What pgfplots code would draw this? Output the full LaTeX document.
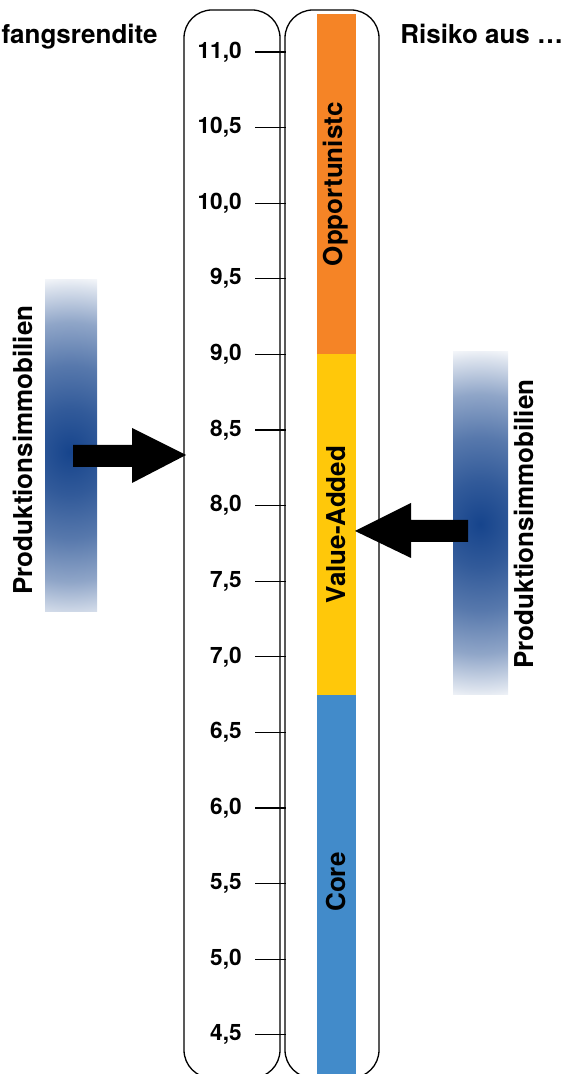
\documentclass[border=0pt]{standalone}
\usepackage{fontspec}
\setmainfont{TeX Gyre Heros}
\usepackage{pgfplots}
\pgfplotsset{compat=1.18}
\definecolor{opp}{RGB}{245,132,38}
\definecolor{val}{RGB}{255,200,10}
\definecolor{core}{RGB}{66,139,202}
\definecolor{navy}{RGB}{22,68,140}
\pgfdeclareradialshading{glow}{\pgfpoint{0bp}{0bp}}{%
  color(0bp)=(navy);
  color(6bp)=(navy!88!white);
  color(12bp)=(navy!72!white);
  color(18bp)=(navy!48!white);
  color(23bp)=(navy!15!white);
  color(25bp)=(white);
  color(50bp)=(white)}
\begin{document}
\begin{tikzpicture}
\useasboundingbox (0pt,0pt) rectangle (285pt,537pt);
% soft bands
\begin{scope}
\clip (22.5pt,231pt) rectangle (48.5pt,397pt);
\shade[shading=glow] (35pt,311pt) ellipse (80pt and 90pt);
\end{scope}
\begin{scope}
\clip (226.5pt,189.5pt) rectangle (254pt,361pt);
\shade[shading=glow] (240pt,275pt) ellipse (80pt and 90pt);
\end{scope}
% frames
\draw[line width=0.65pt, rounded corners=14pt] (92pt,-2pt) rectangle (140pt,532pt);
\draw[line width=0.65pt, rounded corners=14pt] (142.5pt,-2pt) rectangle (189.5pt,532pt);
% titles
\node[anchor=base east, inner sep=0pt, font=\fontsize{13}{15}\selectfont\bfseries] at (79pt,515pt) {Anfangsrendite};
\node[anchor=base west, inner sep=0pt, font=\fontsize{13}{15}\selectfont\bfseries] at (200pt,515pt) {Risiko aus …};
\node[rotate=90, inner sep=0pt, font=\fontsize{13}{15}\selectfont\bfseries] at (11.5pt,312pt) {Produktionsimmobilien};
\node[rotate=90, inner sep=0pt, font=\fontsize{13}{15}\selectfont\bfseries] at (262pt,275pt) {Produktionsimmobilien};
\begin{axis}[
  at={(143pt,0pt)}, anchor=south west,
  scale only axis, width=142pt, height=537pt,
  xmin=286, xmax=570, ymin=4.2407, ymax=11.3439,
  clip=false,
  hide x axis,
  axis y line*=left,
  y axis line style={draw=none},
  ytick={4.5,5,5.5,6,6.5,7,7.5,8,8.5,9,9.5,10,10.5,11},
  tick align=outside,
  major tick length=15.5pt,
  y tick style={black, line width=0.6pt},
  y tick label style={/pgf/number format/.cd, fixed, fixed zerofill, precision=1, use comma, assume math mode=true, /tikz/.cd,
    font=\fontsize{11.3}{13}\selectfont\bfseries, anchor=east, inner sep=0pt, xshift=-6.5pt},
]
% risk bands
\addplot[fill=core, draw=none, mark=none, forget plot] coordinates {(317,4.20) (355.7,4.20) (355.7,6.75) (317,6.75)} -- cycle;
\addplot[fill=val, draw=none, mark=none, forget plot] coordinates {(317,6.75) (355.7,6.75) (355.7,9.0) (317,9.0)} -- cycle;
\addplot[fill=opp, draw=none, mark=none, forget plot] coordinates {(317,9.0) (355.7,9.0) (355.7,11.25) (317,11.25)} -- cycle;
% arrows
\addplot[fill=black, draw=none, mark=none, forget plot] coordinates {(73,8.4008) (132,8.4008) (132,8.5132) (186,8.3346) (132,8.1495) (132,8.2553) (73,8.2553)} -- cycle;
\addplot[fill=black, draw=none, mark=none, forget plot] coordinates {(468,7.9047) (411,7.9047) (411,8.0172) (355,7.8320) (411,7.6534) (411,7.7592) (468,7.7592)} -- cycle;
% band labels
\node[rotate=90, inner sep=0pt, font=\fontsize{13}{15}\selectfont\bfseries] at (axis cs:336,10.125) {Opportunistc};
\node[rotate=90, inner sep=0pt, font=\fontsize{13}{15}\selectfont\bfseries] at (axis cs:336,7.875) {Value-Added};
\node[rotate=90, inner sep=0pt, font=\fontsize{13}{15}\selectfont\bfseries] at (axis cs:336,5.51) {Core};
\end{axis}
\end{tikzpicture}
\end{document}
